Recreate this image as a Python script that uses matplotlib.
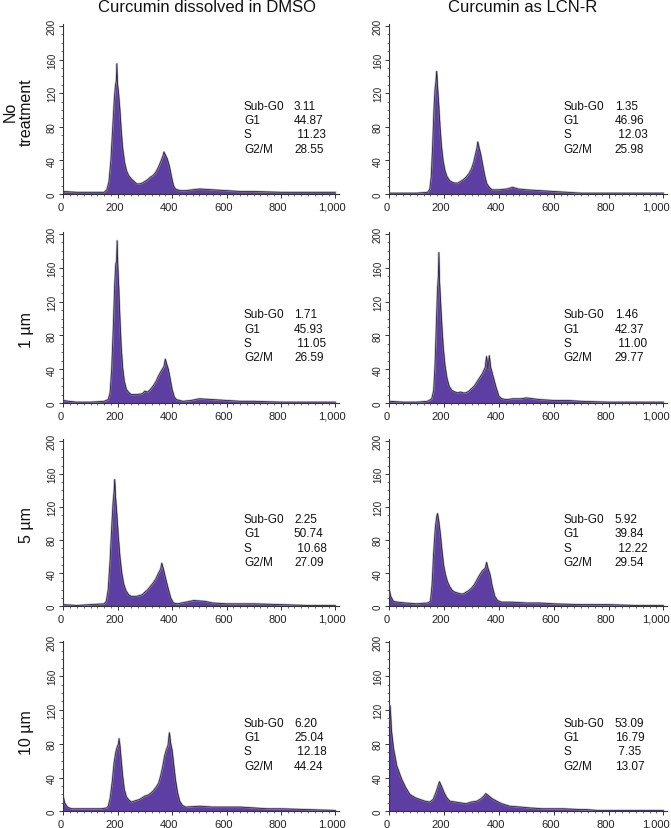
import matplotlib
matplotlib.use("Agg")
import matplotlib.pyplot as plt
from matplotlib.ticker import MultipleLocator, FuncFormatter
from matplotlib.transforms import ScaledTranslation

plt.rcParams['font.family'] = ['Liberation Sans', 'DejaVu Sans']

# ---------------- data ----------------
col_titles = ["Curcumin dissolved in DMSO", "Curcumin as LCN-R"]
row_labels = ["No\ntreatment", "1 \u00b5m", "5 \u00b5m", "10 \u00b5m"]
phase_names = ["Sub-G0", "G1", "S", "G2/M"]
x_ticks = [0, 200, 400, 600, 800, 1000]
y_ticks = [0, 40, 80, 120, 160, 200]

# DMSO, no treatment
x_d0 = [0, 50, 100, 150, 160, 168, 175, 182, 188, 192, 195, 197, 199, 203, 208, 213, 218, 225, 232, 240, 250,
        260, 270, 280, 290, 300, 310, 320, 330, 340, 350, 360, 366, 370, 376, 382, 390, 398, 405, 412, 420,
        430, 450, 500, 550, 600, 650, 700, 800, 900, 1000]
y_d0 = [3, 2, 2, 2, 5, 15, 40, 80, 115, 130, 135, 155, 132, 120, 100, 75, 55, 38, 28, 22, 18,
        15, 12, 12, 13, 15, 17, 20, 22, 26, 32, 40, 45, 50, 46, 42, 33, 20, 10, 6, 5,
        4, 4, 6, 5, 4, 3, 3, 2, 2, 2]
v_d0 = ["3.11", "44.87", " 11.23", "28.55"]

# LCN-R, no treatment
x_l0 = [0, 100, 140, 148, 153, 158, 163, 167, 170, 173, 176, 180, 185, 190, 196, 203, 210, 220, 230, 240, 250,
        260, 270, 280, 290, 300, 308, 315, 320, 323, 327, 333, 340, 348, 356, 365, 375, 400, 430, 450, 470,
        500, 550, 600, 650, 700, 800, 900, 1000]
y_l0 = [1, 1, 2, 6, 20, 55, 100, 125, 133, 146, 128, 108, 80, 58, 40, 28, 21, 16, 14, 13, 13,
        15, 17, 20, 24, 30, 38, 48, 55, 62, 56, 48, 36, 22, 12, 8, 5, 5, 6, 8, 6,
        5, 4, 3, 2, 1, 1, 1, 1]
v_l0 = ["1.35", "46.96", " 12.03", "25.98"]

# DMSO, 1 um
x_d1 = [0, 20, 50, 100, 150, 165, 172, 178, 184, 189, 193, 196, 198, 200, 204, 208, 213, 218, 224, 232, 242,
        250, 270, 290, 300, 310, 320, 330, 340, 350, 360, 370, 375, 380, 386, 392, 400, 408, 416, 440, 470,
        500, 550, 600, 650, 700, 800, 900, 1000]
y_d1 = [3, 2, 1, 1, 2, 4, 12, 40, 90, 140, 165, 168, 192, 165, 135, 100, 65, 42, 26, 16, 12,
        10, 10, 11, 14, 13, 16, 20, 25, 32, 38, 43, 52, 46, 40, 30, 16, 7, 4, 2, 3,
        5, 4, 3, 2, 2, 1, 1, 1]
v_d1 = ["1.71", "45.93", " 11.05", "26.59"]

# LCN-R, 1 um
x_l1 = [0, 50, 100, 140, 155, 162, 167, 172, 176, 179, 181, 183, 187, 192, 197, 203, 210, 218, 228, 240, 250,
        260, 270, 280, 290, 300, 310, 320, 330, 340, 350, 355, 360, 365, 370, 380, 390, 400, 410, 430, 450,
        480, 500, 550, 600, 650, 700, 800, 900, 1000]
y_l1 = [2, 1, 1, 2, 5, 15, 45, 95, 135, 150, 178, 145, 120, 90, 65, 45, 30, 20, 15, 13, 12,
        13, 12, 12, 14, 17, 20, 25, 30, 35, 42, 55, 40, 56, 42, 30, 18, 8, 5, 4, 5,
        5, 6, 4, 3, 3, 2, 1, 1, 1]
v_l1 = ["1.46", "42.37", " 11.00", "29.77"]

# DMSO, 5 um
x_d5 = [0, 50, 100, 150, 158, 165, 172, 178, 183, 187, 189, 192, 197, 202, 208, 215, 222, 230, 240, 250, 260,
        270, 280, 290, 300, 310, 320, 330, 340, 350, 358, 362, 368, 375, 385, 395, 405, 420, 450, 480, 520,
        550, 600, 700, 800, 900, 1000]
y_d5 = [2, 1, 2, 3, 6, 20, 55, 95, 125, 140, 153, 132, 110, 85, 60, 40, 27, 19, 14, 12, 12,
        12, 13, 14, 17, 20, 24, 28, 33, 40, 45, 52, 45, 35, 22, 10, 4, 3, 5, 7, 6,
        4, 3, 3, 2, 1, 1]
v_d5 = ["2.25", "50.74", " 10.68", "27.09"]

# LCN-R, 5 um
x_l5 = [0, 5, 15, 30, 60, 100, 140, 150, 156, 162, 168, 173, 176, 180, 186, 192, 198, 205, 212, 220, 230,
        240, 250, 260, 270, 280, 290, 300, 310, 320, 330, 340, 350, 355, 360, 368, 375, 385, 395, 410, 450,
        500, 550, 600, 700, 800, 900, 1000]
y_l5 = [20, 12, 6, 5, 4, 3, 4, 6, 25, 65, 95, 108, 112, 104, 88, 68, 50, 38, 30, 24, 19,
        17, 16, 15, 15, 17, 19, 22, 26, 32, 38, 43, 46, 53, 46, 38, 25, 12, 7, 5, 5,
        4, 4, 3, 2, 2, 1, 1]
v_l5 = ["5.92", "39.84", " 12.22", "29.54"]

# DMSO, 10 um
x_d10 = [0, 5, 15, 30, 60, 100, 140, 160, 165, 172, 180, 187, 193, 198, 203, 205, 208, 213, 218, 224, 232,
         242, 250, 260, 270, 280, 290, 300, 310, 320, 330, 340, 350, 358, 365, 372, 378, 385, 390, 395, 400,
         406, 412, 420, 428, 438, 450, 500, 550, 600, 650, 700, 750, 800, 900, 1000]
y_d10 = [17, 10, 5, 3, 3, 3, 3, 4, 6, 15, 35, 58, 70, 76, 80, 86, 78, 60, 42, 26, 17,
         13, 11, 12, 13, 14, 16, 18, 19, 21, 24, 28, 33, 42, 52, 65, 72, 78, 93, 80, 72,
         55, 38, 22, 12, 7, 5, 6, 5, 5, 5, 4, 3, 3, 2, 1]
v_d10 = ["6.20", "25.04", " 12.18", "44.24"]

# LCN-R, 10 um
x_l10 = [0, 3, 8, 15, 27, 45, 60, 75, 95, 112, 130, 148, 160, 170, 178, 183, 190, 200, 210, 221, 240,
         260, 280, 300, 320, 335, 345, 352, 360, 375, 392, 410, 440, 480, 513, 560, 635, 700, 720, 760,
         850, 1000]
y_l10 = [110, 125, 95, 75, 54, 38, 28, 20, 16, 14, 12, 11, 14, 22, 30, 35, 30, 22, 16, 12, 11,
         10, 9, 11, 12, 15, 18, 21, 19, 15, 12, 9, 6, 5, 4, 3, 3, 2, 2, 1,
         1, 1]
v_l10 = ["53.09", "16.79", " 7.35", "13.07"]

panels = [
    [(x_d0, y_d0, v_d0), (x_l0, y_l0, v_l0)],
    [(x_d1, y_d1, v_d1), (x_l1, y_l1, v_l1)],
    [(x_d5, y_d5, v_d5), (x_l5, y_l5, v_l5)],
    [(x_d10, y_d10, v_d10), (x_l10, y_l10, v_l10)],
]

# ---------------- layout (pixels) ----------------
W, H = 671, 829
fig = plt.figure(figsize=(W / 100, H / 100), dpi=100)

col_x0 = [63.3, 389.3]          # pixel of x=0
col_ppu = [0.272, 0.274]        # pixels per data unit
row_y0 = [195.0, 404.0, 607.3, 812.3]   # pixel of y=0
row_y200 = [27.0, 235.0, 441.7, 643.3]  # pixel of y=200
XMAX = 1012
YMAX = 202

fill_color = '#5d3ea3'
edge_color = '#2a1f4e'
halo_color = '#8a8a8a'

label_x = [664, 636]
value_x = [848, 823]
text_y = [105, 88, 71, 54]

for r in range(4):
    for c in range(2):
        xs, ys, vals = panels[r][c]
        left = col_x0[c] / W
        width = XMAX * col_ppu[c] / W
        ppy = (row_y0[r] - row_y200[r]) / 200.0
        bottom = 1 - row_y0[r] / H
        height = YMAX * ppy / H
        ax = fig.add_axes([left, bottom, width, height])
        ax.fill_between(xs, ys, 0, color=fill_color, lw=0, zorder=2)
        ax.plot(xs, ys, color=halo_color, lw=1.6, alpha=0.55, zorder=3)
        ax.plot(xs, ys, color=edge_color, lw=0.6, zorder=4)
        ax.set_xlim(0, XMAX)
        ax.set_ylim(0, YMAX)
        for s in ['top', 'right']:
            ax.spines[s].set_visible(False)
        for s in ['left', 'bottom']:
            ax.spines[s].set_linewidth(0.8)
            ax.spines[s].set_color('#333333')
        ax.set_xticks(x_ticks)
        ax.set_yticks(y_ticks)
        ax.xaxis.set_minor_locator(MultipleLocator(25))
        ax.yaxis.set_minor_locator(MultipleLocator(10))
        ax.xaxis.set_major_formatter(FuncFormatter(lambda v, p: f"{int(v):,}"))
        ax.tick_params(axis='x', which='major', length=3, width=0.7, pad=2.5, labelsize=8,
                       colors='#333333', labelcolor='#222222')
        ax.tick_params(axis='x', which='minor', length=1.5, width=0.5, colors='#333333')
        ax.tick_params(axis='y', which='major', length=3, width=0.7, pad=1.5, labelsize=7,
                       colors='#333333', labelcolor='#222222')
        ax.tick_params(axis='y', which='minor', length=1.5, width=0.5, colors='#333333')
        for lab in ax.get_yticklabels():
            lab.set_rotation(90)
            lab.set_va('center')
        xlabs = ax.get_xticklabels()
        for k, lab in enumerate(xlabs):
            dx = -3.0
            if c == 1 and k == len(xlabs) - 1:
                dx = -7.5
            lab.set_transform(lab.get_transform() + ScaledTranslation(dx / 100, 0, fig.dpi_scale_trans))
        for i, name in enumerate(phase_names):
            ax.text(label_x[c], text_y[i], name, fontsize=8.5, ha='left', va='center', color='#111111')
            ax.text(value_x[c], text_y[i], vals[i], fontsize=8.5, ha='left', va='center', color='#111111')

# column titles
title_cx = [207, 523]
for c in range(2):
    fig.text(title_cx[c] / W, 1 - 8 / H, col_titles[c], fontsize=12, ha='center', va='center', color='#111111')

# row labels
row_label_cy = [112, 330, 525, 733]
for r in range(4):
    fig.text(18 / W if r == 0 else 27 / W, 1 - row_label_cy[r] / H, row_labels[r], fontsize=11.5,
             rotation=90, ha='center', va='center', multialignment='center', color='#111111',
             linespacing=1.1)

fig.savefig("out.png", dpi=100)
